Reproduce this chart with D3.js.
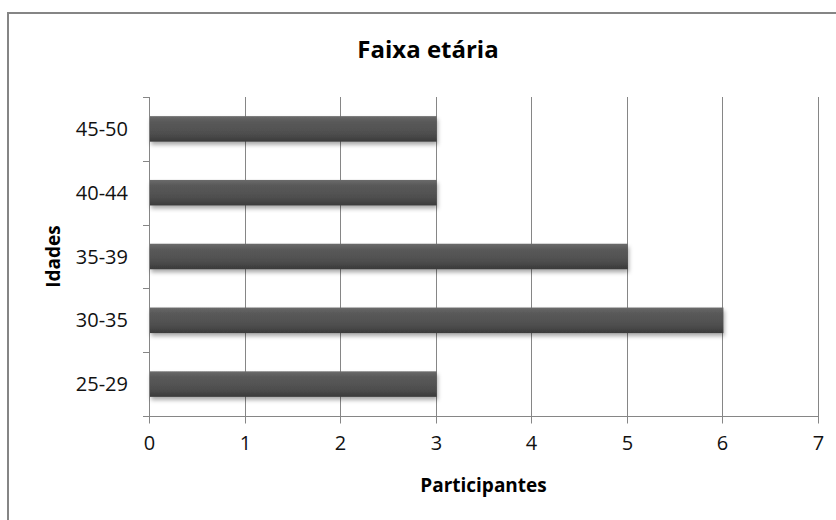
<!DOCTYPE html>
<html>
<head>
<meta charset="utf-8">
<script src="https://cdn.jsdelivr.net/npm/d3@7"></script>
<style>
  html, body { margin: 0; padding: 0; background: #fff; }
  svg { display: block; font-family: "Open Sans", sans-serif; }
</style>
</head>
<body>
<svg id="chart" width="836" height="520"></svg>
<script>
// Age groups (bottom to top) and number of participants in each
const categories = ["25-29", "30-35", "35-39", "40-44", "45-50"];
const participants = [3, 6, 5, 3, 3];
const xTicks = [0, 1, 2, 3, 4, 5, 6, 7];

const chartTitle = "Faixa etária";
const xTitle = "Participantes";
const yTitle = "Idades";

const svg = d3.select("#chart");

// Frame of the chart area
svg.append("path")
  .attr("d", "M8,530 L8,13 L846,13")
  .attr("fill", "none")
  .attr("stroke", "#858585")
  .attr("stroke-width", 2);

const plot = { left: 149, right: 818, top: 97, bottom: 416 };

const x = d3.scaleLinear().domain([0, 7]).range([plot.left, plot.right]);
const y = d3.scaleBand()
  .domain(categories.slice().reverse())
  .range([plot.top, plot.bottom])
  .paddingInner(0.6)
  .paddingOuter(0.3);

// Bar fill gradient and soft shadow
const defs = svg.append("defs");
const grad = defs.append("linearGradient")
  .attr("id", "barGrad").attr("x1", 0).attr("y1", 0).attr("x2", 0).attr("y2", 1);
[["0%", "#6b6b6b"], ["20%", "#5a5a5a"], ["70%", "#4e4e4e"], ["100%", "#3a3a3a"]]
  .forEach(([o, c]) => grad.append("stop").attr("offset", o).attr("stop-color", c));
const shadow = defs.append("filter").attr("id", "barShadow")
  .attr("x", "-5%").attr("y", "-30%").attr("width", "115%").attr("height", "180%");
shadow.append("feDropShadow")
  .attr("dx", 1).attr("dy", 3).attr("stdDeviation", 2)
  .attr("flood-color", "#000").attr("flood-opacity", 0.35);

// Vertical gridlines
svg.append("g")
  .selectAll("line")
  .data(xTicks.filter(d => d > 0))
  .join("line")
  .attr("x1", d => Math.round(x(d)) + 0.5)
  .attr("x2", d => Math.round(x(d)) + 0.5)
  .attr("y1", plot.top)
  .attr("y2", plot.bottom)
  .attr("stroke", "#868686")
  .attr("stroke-width", 1);

// X axis
const xAxis = svg.append("g")
  .attr("transform", `translate(0,${plot.bottom + 0.5})`)
  .call(d3.axisBottom(x).tickValues(xTicks).tickSize(7).tickPadding(12).tickFormat(d3.format("d")));
xAxis.select(".domain").attr("stroke", "#868686").attr("d", `M${plot.left},0H${plot.right + 1}`);
xAxis.selectAll(".tick line").attr("stroke", "#868686");
xAxis.selectAll(".tick").attr("transform", d => `translate(${Math.round(x(d)) + 0.5},0)`);
xAxis.selectAll(".tick text")
  .attr("font-size", 20).attr("fill", "#111")
  .attr("font-family", "'Open Sans', sans-serif");

// Y axis: ticks at the boundaries between categories
const bounds = d3.range(categories.length + 1)
  .map(i => plot.top + i * (plot.bottom - plot.top) / categories.length);
const yAxis = svg.append("g");
yAxis.append("line")
  .attr("x1", plot.left + 0.5).attr("x2", plot.left + 0.5)
  .attr("y1", plot.top).attr("y2", plot.bottom)
  .attr("stroke", "#868686");
yAxis.selectAll("line.tick")
  .data(bounds)
  .join("line")
  .attr("class", "tick")
  .attr("x1", plot.left - 6).attr("x2", plot.left)
  .attr("y1", d => Math.round(d) + 0.5).attr("y2", d => Math.round(d) + 0.5)
  .attr("stroke", "#868686");
yAxis.selectAll("text")
  .data(categories)
  .join("text")
  .attr("x", 128)
  .attr("y", d => y(d) + y.bandwidth() / 2)
  .attr("dy", "0.35em")
  .attr("text-anchor", "end")
  .attr("font-size", 20)
  .attr("fill", "#111")
  .text(d => d);

// Bars
svg.append("g")
  .selectAll("rect")
  .data(categories.map((c, i) => ({ c, v: participants[i] })))
  .join("rect")
  .attr("x", x(0) + 1)
  .attr("y", d => y(d.c))
  .attr("width", d => x(d.v) - x(0))
  .attr("height", y.bandwidth())
  .attr("fill", "url(#barGrad)")
  .attr("filter", "url(#barShadow)");

// Titles
svg.append("text")
  .attr("x", 428).attr("y", 58)
  .attr("text-anchor", "middle")
  .attr("font-size", 24).attr("font-weight", "bold").attr("fill", "#000")
  .text(chartTitle);

svg.append("text")
  .attr("x", (plot.left + plot.right) / 2).attr("y", 492)
  .attr("text-anchor", "middle")
  .attr("font-size", 19).attr("font-weight", "bold").attr("fill", "#000")
  .text(xTitle);

svg.append("text")
  .attr("transform", `translate(60,${(plot.top + plot.bottom) / 2}) rotate(-90)`)
  .attr("text-anchor", "middle")
  .attr("font-size", 19).attr("font-weight", "bold").attr("fill", "#000")
  .text(yTitle);
</script>
</body>
</html>
